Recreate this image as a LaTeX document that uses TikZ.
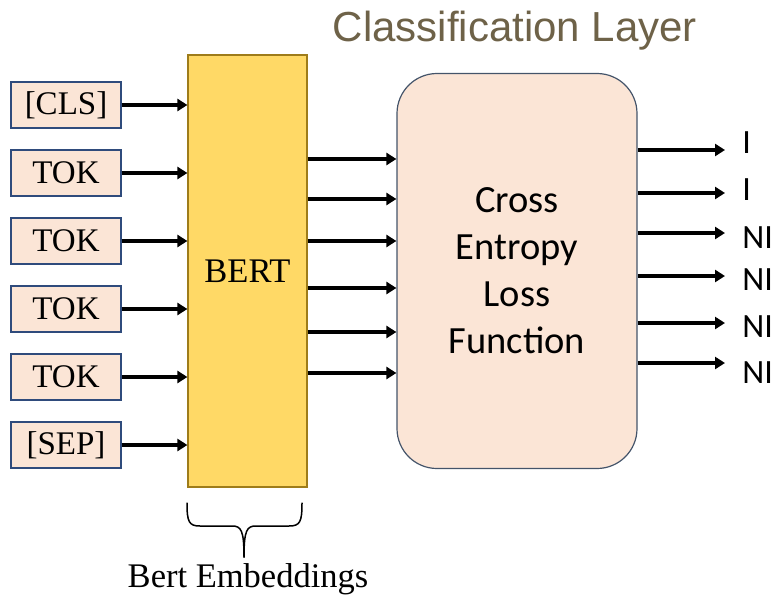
\documentclass[tikz,border=0pt]{standalone}
\usepackage{fontspec}
\setmainfont{Liberation Serif}
\newfontfamily\calibrifont{Carlito}
\newfontfamily\arialfont{Liberation Sans}
\usepackage{xcolor}
\usetikzlibrary{positioning, calc, arrows.meta}

\definecolor{tokfill}{HTML}{FBE5D6}
\definecolor{tokline}{HTML}{2F4B7C}
\definecolor{bertfill}{HTML}{FFD966}
\definecolor{bertline}{HTML}{9E7C1A}
\definecolor{lossline}{HTML}{44546A}
\definecolor{titlecol}{HTML}{6E6248}

\begin{document}
\begin{tikzpicture}[x=1pt, y=-1pt, thick,
    tokbox/.style={draw=tokline, fill=tokfill, line width=1.2pt, minimum width=110pt,
        minimum height=46pt, inner sep=0pt, font=\fontsize{33}{36}\selectfont},
    arr/.style={-{Triangle[length=10pt,width=12pt]}, line width=3.4pt},
    outlbl/.style={anchor=west, inner xsep=17pt, inner ysep=0pt,
        font=\calibrifont\fontsize{34}{36}\selectfont},
    bracel/.style={line width=1.5pt, line cap=round}]

        \useasboundingbox (0,0) rectangle (775,596);

        % 1. Title
        \node[anchor=base, text=titlecol, font=\arialfont\fontsize{42}{48}\selectfont]
            (title) at (515,42) {Classification Layer};

        % 2. Input tokens (left column)
        \foreach \name/\txt [count=\i from 0] in {cls/{[CLS]}, tokA/TOK, tokB/TOK, tokC/TOK, tokD/TOK, sep/{[SEP]}}
            \node[tokbox] (\name) at (66, 105+68*\i) {\txt};

        % 3. BERT block
        \node[draw=bertline, fill=bertfill, line width=1.2pt, minimum width=119pt, minimum height=432pt,
            inner sep=0pt, font=\fontsize{34.5}{36}\selectfont] (bert) at (247.5,271) {BERT};

        % Token -> BERT
        \foreach \name in {cls, tokA, tokB, tokC, tokD, sep}
            \draw[arr] (\name.east) -- (\name.east -| bert.west);

        % 4. Loss block
        \node[draw=lossline, fill=tokfill, line width=1.2pt, rounded corners=40pt,
            minimum width=240pt, minimum height=395pt, align=center,
            font=\calibrifont\fontsize{38.5}{47}\selectfont] (loss) at (517,271)
            {Cross\\Entropy\\Loss\\Function};

        % BERT -> Loss
        \foreach \y in {159, 199, 241, 288, 332, 373}
            \draw[arr] (bert.east |- 0,\y) -- (loss.west |- 0,\y);

        % 5. Output labels
        \foreach \txt/\yl/\ya [count=\i] in {I/143/150, I/190/193, NI/238/233, NI/280/276, NI/327/323, NI/373/363} {
            \node[outlbl] (out\i) at (725,\yl) {\txt};
            \draw[arr] (loss.east |- 0,\ya) -- (out\i.west |- 0,\ya);
        }

        % 6. Brace under BERT
        \draw[bracel] (187,503) .. controls (187,522) and (189,526) .. (200,526) -- (232,526)
            .. controls (241,526) and (244,530) .. (244,557);
        \draw[bracel] (302,503) .. controls (302,522) and (300,526) .. (289,526) -- (256,526)
            .. controls (247,526) and (244,530) .. (244,557);
        \node[anchor=base, font=\fontsize{34.5}{36}\selectfont] (emb) at (248,587) {Bert Embeddings};

\end{tikzpicture}
\end{document}
